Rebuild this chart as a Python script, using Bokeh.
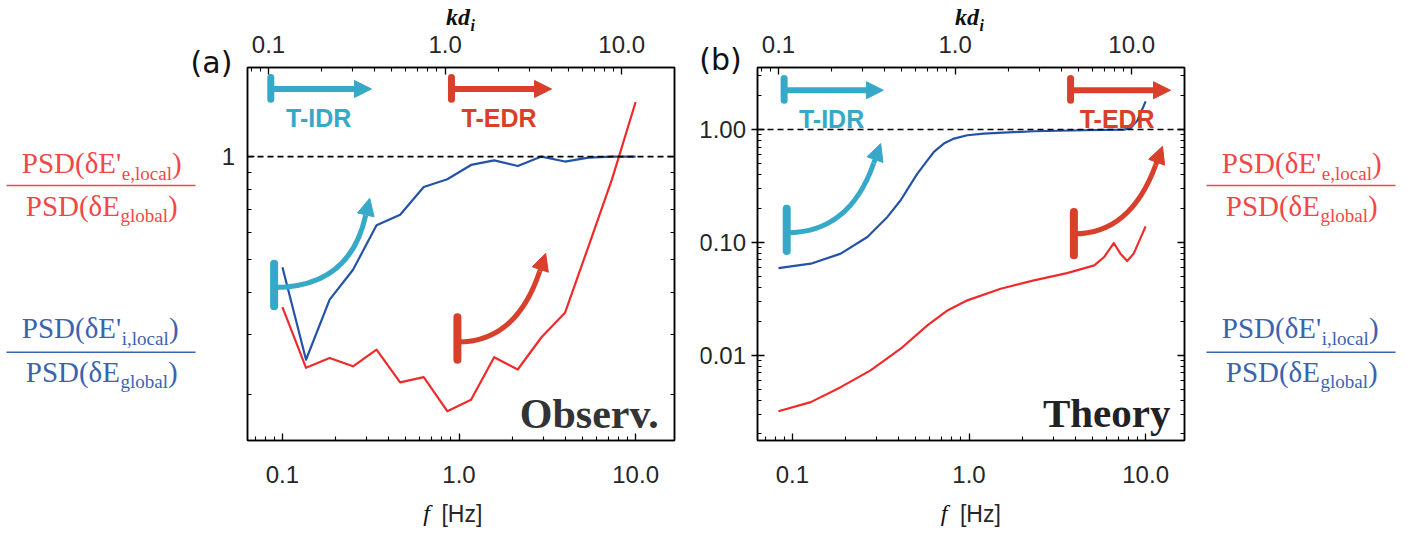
import math
from bokeh.plotting import figure
from bokeh.models import (Range1d, LogScale, LogAxis, FixedTicker, Span, Label,
                          Arrow, NormalHead)
from bokeh.layouts import row, column
from bokeh.embed import file_html
from bokeh.resources import INLINE
from bokeh.core.properties import value

# ---------------- data ----------------
# (a) observations
f_obs = [0.1, 0.136, 0.185, 0.251, 0.341, 0.464, 0.631, 0.858, 1.17, 1.58,
         2.15, 2.93, 3.98, 5.41, 7.36, 10.0]
psd_i_obs = [0.473, 0.253, 0.38, 0.465, 0.628, 0.675, 0.814, 0.858, 0.945,
             0.975, 0.938, 1.0, 0.967, 0.993, 1.0, 1.0]
psd_e_obs = [0.361, 0.2395, 0.256, 0.242, 0.271, 0.217, 0.225, 0.1786, 0.193,
             0.2574, 0.2368, 0.2946, 0.3476, 0.545, 0.86, 1.447]

# (b) theory
f_th_i = [0.0833, 0.127, 0.1876, 0.2657, 0.345, 0.41, 0.457, 0.51, 0.581,
          0.632, 0.72, 0.822, 0.978, 1.21, 2.33, 4.47, 7.52, 8.24, 9.0, 10.0]
psd_i_th = [0.0591, 0.0647, 0.0794, 0.1114, 0.168, 0.236, 0.31, 0.407, 0.534,
            0.633, 0.751, 0.832, 0.89, 0.922, 0.966, 0.986, 1.0, 1.03, 1.21, 1.78]
f_th_e = [0.0833, 0.127, 0.1876, 0.277, 0.41, 0.581, 0.755, 0.978, 1.51, 2.33,
          3.59, 5.12, 5.82, 6.6, 7.2, 7.86, 8.56, 10.0]
psd_e_th = [0.00318, 0.00383, 0.0052, 0.00732, 0.0114, 0.01835, 0.0249, 0.0306,
            0.0388, 0.046, 0.0534, 0.0625, 0.0741, 0.0986, 0.0794, 0.0683,
            0.0794, 0.1387]

KD_PER_F = 1.2
F_RANGE = (0.0634, 16.6)
YA_RANGE = (0.1465, 1.827)
YB_RANGE = (0.00175, 3.55)

x_major = [0.1, 1.0, 10.0]
x_labels = ["0.1", "1.0", "10.0"]
x_minor = [0.06, 0.07, 0.08, 0.09, 0.2, 0.3, 0.4, 0.5, 0.6, 0.7, 0.8, 0.9,
           2, 3, 4, 5, 6, 7, 8, 9]
ya_major = [1.0]
ya_labels = ["1"]
ya_minor = [0.2, 0.3, 0.4, 0.5, 0.6, 0.7, 0.8, 0.9]
yb_major = [0.01, 0.1, 1.0]
yb_labels = ["0.01", "0.10", "1.00"]
yb_minor = [0.002, 0.003, 0.004, 0.005, 0.006, 0.007, 0.008, 0.009,
            0.02, 0.03, 0.04, 0.05, 0.06, 0.07, 0.08, 0.09,
            0.2, 0.3, 0.4, 0.5, 0.6, 0.7, 0.8, 0.9, 2, 3]

# annotation arrows: (bar_x, bar_y0, bar_y1, arrow_y, tip_x, text_x, text_y)
idr_a = (0.0859, 1.474, 1.708, 1.58, 0.319, 0.1605, 1.296)
edr_a = (0.906, 1.474, 1.708, 1.58, 3.34, 1.684, 1.296)
idr_b = (0.0897, 1.82, 2.835, 2.232, 0.3273, 0.1665, 1.252)
edr_b = (3.758, 1.82, 2.835, 2.232, 13.83, 6.9, 1.252)
# curved arrows: (bar_x, bar_y0, bar_y1, y_start, ctrl_x, ctrl_y, base_x, base_y, tip_x, tip_y)
curve_a_i = (0.0897, 0.363, 0.484, 0.4126, 0.2404, 0.4126, 0.296, 0.672, 0.312, 0.754)
curve_a_e = (0.979, 0.2529, 0.3375, 0.2852, 2.107, 0.2852, 2.861, 0.46, 3.095, 0.5195)
curve_b_i = (0.0928, 0.0837, 0.199, 0.1214, 0.2102, 0.1214, 0.2884, 0.5023, 0.316, 0.751)
curve_b_e = (3.924, 0.0767, 0.1857, 0.119, 8.19, 0.119, 11.38, 0.482, 12.46, 0.711)

BLUE = "#2453a5"
RED = "#ee2b2b"
CYAN = "#36a8c8"
ORANGE = "#d8402b"
FR_RED = "#f04848"
FR_BLUE = "#3b63b0"
TXT = "#262626"
DARK = "#111111"

# ---------------- layout geometry (page pixels) ----------------
H = 533
TOP_H = 64          # strip holding kd_i title and its tick labels
BOT_H = 33          # strip holding f [Hz]
MAIN_H = H - TOP_H - BOT_H
FRAME_TOP = 67
FRAME_BOTTOM = 440
MB_TOP = FRAME_TOP - TOP_H
MB_BOTTOM = (TOP_H + MAIN_H) - FRAME_BOTTOM
FRAME_H = FRAME_BOTTOM - FRAME_TOP

L_W = 236
A_W, A_BL, A_BR = 464, 11, 26
LB_W = 50
B_W, B_BL, B_BR = 436, 7, 2
R_W = 1422 - L_W - A_W - LB_W - B_W
A_X0 = L_W
LB_X0 = A_X0 + A_W
B_X0 = LB_X0 + LB_W
R_X0 = B_X0 + B_W

# distance (in em) from the alphabetic baseline up to the em-box middle
MID = {"Liberation Serif": 0.3375, "Liberation Sans": 0.3465, "DejaVu Sans": 0.346}


def style_axis(ax, tick_out=0, standoff=6, labels=None, size="24px"):
    ax.axis_line_color = "black"
    ax.axis_line_width = 1.5
    ax.major_tick_in = 7
    ax.major_tick_out = tick_out
    ax.minor_tick_in = 4
    ax.minor_tick_out = 0
    ax.major_tick_line_width = 1.3
    ax.minor_tick_line_width = 1.1
    ax.major_label_text_font = "Liberation Sans"
    ax.major_label_text_font_size = size
    ax.major_label_text_color = TXT
    ax.major_label_standoff = standoff
    if labels is not None:
        ax.major_label_overrides = labels


def hide_labels(ax, ticks):
    ax.major_label_overrides = {t: "" for t in ticks}
    ax.major_label_text_font_size = "1px"
    ax.major_label_standoff = 0


def make_panel(width, bl, br, yr, ymaj, ymin, ytick_out):
    p = figure(width=width, height=MAIN_H, x_axis_type="log", y_axis_type="log",
               x_range=Range1d(*F_RANGE), y_range=Range1d(*yr),
               output_backend="svg", toolbar_location=None,
               min_border_left=bl, min_border_right=br,
               min_border_top=MB_TOP, min_border_bottom=MB_BOTTOM)
    p.grid.visible = False
    p.outline_line_color = "black"
    p.outline_line_width = 1.5
    p.background_fill_color = "white"
    p.border_fill_color = "white"
    xa = p.xaxis[0]
    xa.ticker = FixedTicker(ticks=x_major, minor_ticks=x_minor)
    style_axis(xa, 0, 25, dict(zip(x_major, x_labels)))
    ya = p.yaxis[0]
    ya.ticker = FixedTicker(ticks=ymaj, minor_ticks=ymin)
    style_axis(ya, ytick_out, 0)
    hide_labels(ya, ymaj)
    # top kd_i axis (ticks; its labels are drawn in the strip above)
    p.extra_x_ranges = {"kd": Range1d(F_RANGE[0] * KD_PER_F, F_RANGE[1] * KD_PER_F)}
    p.extra_x_scales = {"kd": LogScale()}
    top = LogAxis(x_range_name="kd",
                  ticker=FixedTicker(ticks=x_major, minor_ticks=x_minor))
    style_axis(top, 0, 0)
    hide_labels(top, x_major)
    p.add_layout(top, "above")
    right = LogAxis(ticker=FixedTicker(ticks=ymaj, minor_ticks=ymin))
    style_axis(right, 0, 0)
    hide_labels(right, ymaj)
    p.add_layout(right, "right")
    p.add_layout(Span(location=1.0, dimension="width", line_color="black",
                      line_width=1.6, line_dash="6 4"))
    return p


def text_fig(w, h, xr, yr, xlog=False, bl=0, br=0):
    p = figure(width=w, height=h, x_range=xr, y_range=yr, x_axis_type=None,
               y_axis_type=None, min_border=0, min_border_left=bl,
               min_border_right=br, min_border_top=0, min_border_bottom=0,
               toolbar_location=None, output_backend="svg")
    if xlog:
        p.x_scale = LogScale()
    p.outline_line_color = None
    p.background_fill_color = "white"
    p.border_fill_color = "white"
    return p


def txt(p, x, y, s, size, color=TXT, font="Liberation Serif", style="normal",
        align="left", x_offset=0, y_range_name="default", base=True):
    # y is the alphabetic baseline (page px) unless base=False (then: middle)
    yy = y - MID[font] * size if base else y
    p.text(x=[x], y=[yy], text=[s], text_font=value(font),
           text_font_size=value(f"{size}px"), text_font_style=style,
           text_color=color, text_align=align, text_baseline="middle",
           x_offset=x_offset, y_range_name=y_range_name)


def flat_arrow(p, spec, color, text):
    bx, by0, by1, ay, tip, tx, ty = spec
    p.segment(x0=[bx], y0=[by0], x1=[bx], y1=[by1], line_color=color,
              line_width=7, line_cap="round")
    p.add_layout(Arrow(x_start=bx, y_start=ay, x_end=tip, y_end=ay,
                       line_color=color, line_width=6,
                       end=NormalHead(size=17, fill_color=color,
                                      line_color=color, line_width=1)))
    p.add_layout(Label(x=tx, y=ty, text=text, text_font="Liberation Sans",
                       text_font_style="bold", text_font_size="25px",
                       text_color=color, text_align="center",
                       text_baseline="middle"))


def curved_arrow(p, spec, color):
    bx, by0, by1, ys, cx, cy, ex, ey, tx, ty = spec
    p.segment(x0=[bx], y0=[by0], x1=[bx], y1=[by1], line_color=color,
              line_width=8, line_cap="round")
    p.quadratic(x0=[bx], y0=[ys], x1=[ex], y1=[ey], cx=[cx], cy=[cy],
                line_color=color, line_width=5)
    p.add_layout(Arrow(x_start=ex, y_start=ey, x_end=tx, y_end=ty,
                       line_color=color, line_width=5,
                       end=NormalHead(size=17, fill_color=color,
                                      line_color=color, line_width=1)))


def fraction(p, dx, color, sub, sub_w, y_num, y_line, y_den):
    txt(p, 120.8 + dx, y_num, "PSD(\u03b4E'", 29, color, align="right")
    txt(p, 121.3 + dx, y_num + 7, sub, 19, color)
    txt(p, 121.5 + sub_w + dx, y_num, ")", 29, color)
    p.segment(x0=[6 + dx], y0=[y_line], x1=[195 + dx], y1=[y_line],
              line_color=color, line_width=1.6)
    txt(p, 119.5 + dx, y_den, "PSD(\u03b4E", 29, color, align="right")
    txt(p, 120 + dx, y_den + 6, "global", 19, color)
    txt(p, 167.5 + dx, y_den, ")", 29, color)


def ext_range(r):
    # the frame's log range extended over the full page height
    dec = math.log10(r[1] / r[0]) / FRAME_H
    return Range1d(r[0] / 10 ** ((H - FRAME_BOTTOM) * dec),
                   r[1] * 10 ** (FRAME_TOP * dec))


def top_strip(w, bl, br, cx_off):
    kd = (F_RANGE[0] * KD_PER_F, F_RANGE[1] * KD_PER_F)
    p = text_fig(w, TOP_H, Range1d(*kd), Range1d(TOP_H, 0), xlog=True, bl=bl, br=br)
    for t, s in zip(x_major, x_labels):
        txt(p, t, 52.5, s, 24, TXT, font="Liberation Sans", align="center")
    kc = math.sqrt(kd[0] * kd[1])
    txt(p, kc, 25, "kd", 24, DARK, style="bold italic", align="right", x_offset=cx_off)
    txt(p, kc, 30, "i", 16, DARK, style="bold italic", x_offset=cx_off + 0.5)
    return p


def bottom_strip(x0, w, fc):
    p = text_fig(w, BOT_H, Range1d(x0, x0 + w), Range1d(H, H - BOT_H))
    txt(p, fc - 33.5, 521, "f", 24, DARK, style="italic")
    txt(p, fc - 13.8, 521.5, "[Hz]", 23, TXT, font="Liberation Sans")
    return p


# ---------------- left text column ----------------
left = text_fig(L_W, H, Range1d(0, L_W), Range1d(H, 0))
left.extra_y_ranges = {"ya": ext_range(YA_RANGE)}
left.extra_y_scales = {"ya": LogScale()}
for t, s in zip(ya_major, ya_labels):
    txt(left, L_W - 1.5, t, s, 24, TXT, font="Liberation Sans", align="right",
        y_range_name="ya", base=False)
txt(left, 211, 72, "(a)", 30, DARK, font="DejaVu Sans", align="center")
fraction(left, 0, FR_RED, "e,local", 50.1, 172, 185, 215)
fraction(left, 0, FR_BLUE, "i,local", 47, 337, 351.7, 381)

# ---------------- panel (a) ----------------
pa = make_panel(A_W, A_BL, A_BR, YA_RANGE, ya_major, ya_minor, 0)
pa.line(f_obs, psd_i_obs, line_color=BLUE, line_width=2.2, line_join="round")
pa.line(f_obs, psd_e_obs, line_color=RED, line_width=2.2, line_join="round")
flat_arrow(pa, idr_a, CYAN, "T-IDR")
flat_arrow(pa, edr_a, ORANGE, "T-EDR")
curved_arrow(pa, curve_a_i, CYAN)
curved_arrow(pa, curve_a_e, ORANGE)
pa.add_layout(Label(x=13.5, y=0.1505, text="Observ.", text_font="Liberation Serif",
                    text_font_style="bold", text_font_size="42px",
                    text_color="#333333", text_align="right"))
fa_c = A_X0 + A_BL + (A_W - A_BL - A_BR) / 2
col_a = column(top_strip(A_W, A_BL, A_BR, 9), pa, bottom_strip(A_X0, A_W, fa_c),
               spacing=0)

# ---------------- y labels of panel (b) ----------------
lb = text_fig(LB_W, H, Range1d(LB_X0, LB_X0 + LB_W), Range1d(H, 0))
lb.extra_y_ranges = {"yb": ext_range(YB_RANGE)}
lb.extra_y_scales = {"yb": LogScale()}
for t, s in zip(yb_major, yb_labels):
    txt(lb, LB_X0 + 45.5, t, s, 24, TXT, font="Liberation Sans", align="right",
        y_range_name="yb", base=False)
txt(lb, 720, 69.5, "(b)", 30, DARK, font="DejaVu Sans", align="center")

# ---------------- panel (b) ----------------
pb = make_panel(B_W, B_BL, B_BR, YB_RANGE, yb_major, yb_minor, 6)
pb.line(f_th_i, psd_i_th, line_color=BLUE, line_width=2.2, line_join="round")
pb.line(f_th_e, psd_e_th, line_color=RED, line_width=2.2, line_join="round")
flat_arrow(pb, idr_b, CYAN, "T-IDR")
flat_arrow(pb, edr_b, ORANGE, "T-EDR")
curved_arrow(pb, curve_b_i, CYAN)
curved_arrow(pb, curve_b_e, ORANGE)
pb.add_layout(Label(x=13.83, y=0.0019, text="Theory", text_font="Liberation Serif",
                    text_font_style="bold", text_font_size="41px",
                    text_color="#222222", text_align="right"))
fb_c = B_X0 + B_BL + (B_W - B_BL - B_BR) / 2
col_b = column(top_strip(B_W, B_BL, B_BR, 8), pb, bottom_strip(B_X0, B_W, fb_c),
               spacing=0)

# ---------------- right text column ----------------
right = text_fig(R_W, H, Range1d(R_X0, R_X0 + R_W), Range1d(H, 0))
fraction(right, 1200, FR_RED, "e,local", 50.1, 172, 185, 215)
fraction(right, 1200, FR_BLUE, "i,local", 47, 337, 351.7, 381)

layout = row(left, col_a, lb, col_b, right, spacing=0)
open("out.html", "w").write(file_html(layout, INLINE))
